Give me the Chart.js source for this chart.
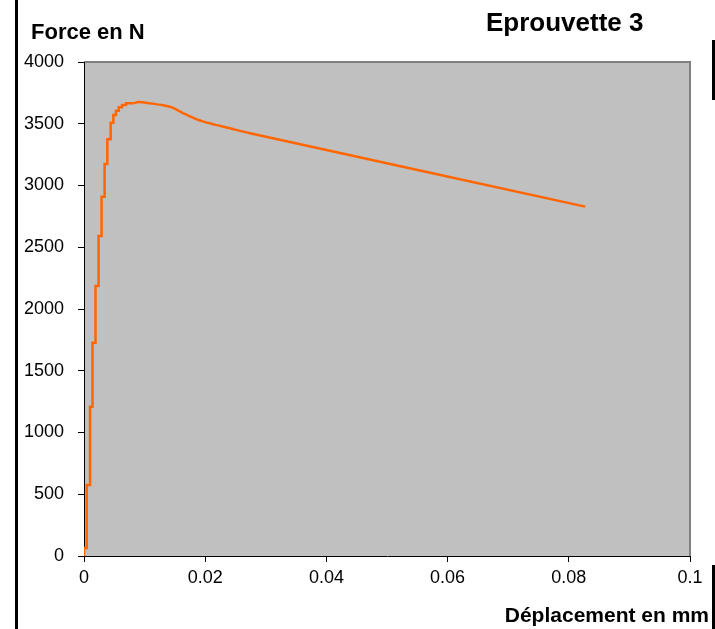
<!DOCTYPE html>
<html>
<head>
<meta charset="utf-8">
<script src="https://cdn.jsdelivr.net/npm/chart.js@4.4.0/dist/chart.umd.min.js"></script>
<style>
  html, body { margin: 0; padding: 0; background: #fff; }
  canvas { display: block; }
</style>
</head>
<body>
<canvas id="chart" width="715" height="629"></canvas>
<script>
// Eprouvette 3 - force / displacement curve

// stepped rise (displacement in mm, force in N)
const riseDisp = [0, 0, 0.00045, 0.0010, 0.0014, 0.0019, 0.0024, 0.0029, 0.0034, 0.00385, 0.0044, 0.00484, 0.00528, 0.00573, 0.00627, 0.00693, 0.00814];
const riseForce = [0, 65, 575, 1209, 1727, 2186, 2591, 2909, 3174, 3374, 3509, 3571, 3606, 3633, 3652, 3665, 3665];

// smooth softening part after the peak
const fallDisp = [0.00814, 0.0090, 0.0109, 0.0131, 0.0145, 0.0164, 0.0186, 0.0208, 0.0241, 0.0274, 0.0827];
const fallForce = [3665, 3676, 3665, 3649, 3633, 3585, 3536, 3503, 3463, 3423, 2829];

const xTicks = [0, 0.02, 0.04, 0.06, 0.08, 0.1];
const yTicks = [0, 500, 1000, 1500, 2000, 2500, 3000, 3500, 4000];

const LINE_COLOR = '#ff6600';
const FONT = 'Arial, "Liberation Sans", sans-serif';

function toPoints(xs, ys) {
    return xs.map((x, i) => ({ x: x, y: ys[i] }));
}

const decor = {
    id: 'decor',
    beforeDraw(chart) {
        const { ctx, chartArea: a } = chart;
        ctx.save();
        ctx.fillStyle = '#ffffff';
        ctx.fillRect(0, 0, chart.width, chart.height);
        ctx.fillStyle = '#c0c0c0';
        ctx.fillRect(a.left, a.top, a.right - a.left, a.bottom - a.top);
        // grey frame on top and right of plot area
        ctx.strokeStyle = '#808080';
        ctx.lineWidth = 2;
        ctx.beginPath();
        ctx.moveTo(a.left, a.top);
        ctx.lineTo(a.right, a.top);
        ctx.lineTo(a.right, a.bottom);
        ctx.stroke();
        ctx.restore();
    },
    afterDraw(chart) {
        const { ctx } = chart;
        ctx.save();
        // black page edges
        ctx.fillStyle = '#000';
        ctx.fillRect(15, 0, 3, chart.height);
        ctx.fillRect(712, 40, 3, 60);
        ctx.fillRect(712, 565, 3, 64);

        ctx.fillStyle = '#000';
        ctx.textBaseline = 'alphabetic';
        ctx.textAlign = 'left';
        ctx.font = 'bold 22px ' + FONT;
        ctx.fillText('Force en N', 31, 39);
        ctx.font = 'bold 26px ' + FONT;
        ctx.fillText('Eprouvette 3', 486, 31);
        ctx.font = 'bold 21px ' + FONT;
        ctx.textAlign = 'right';
        ctx.fillText('Déplacement en mm', 709, 622);
        ctx.restore();
    }
};

new Chart(document.getElementById('chart'), {
    type: 'line',
    data: {
        datasets: [
            {
                label: 'montee',
                data: toPoints(riseDisp, riseForce),
                borderColor: LINE_COLOR,
                borderWidth: 2.5,
                pointRadius: 0,
                fill: false,
                stepped: 'before'
            },
            {
                label: 'descente',
                data: toPoints(fallDisp, fallForce),
                borderColor: LINE_COLOR,
                borderWidth: 2.5,
                pointRadius: 0,
                fill: false,
                tension: 0.3
            }
        ]
    },
    options: {
        responsive: false,
        animation: false,
        devicePixelRatio: 1,
        layout: {
            padding: { left: 0, top: 62, right: 25, bottom: 0 }
        },
        plugins: {
            legend: { display: false },
            tooltip: { enabled: false }
        },
        scales: {
            x: {
                type: 'linear',
                min: 0,
                max: 0.1,
                afterFit: (scale) => { scale.height = 73; },
                afterBuildTicks: (scale) => { scale.ticks = xTicks.map(v => ({ value: v })); },
                border: { display: true, color: '#000', width: 1 },
                grid: { display: true, drawOnChartArea: false, drawTicks: true, tickLength: 6, color: '#000' },
                ticks: {
                    color: '#000',
                    font: { family: FONT, size: 18 },
                    padding: 5,
                    maxRotation: 0,
                    autoSkip: false,
                    callback: (v) => String(+v.toFixed(2))
                }
            },
            y: {
                type: 'linear',
                min: 0,
                max: 4000,
                afterFit: (scale) => { scale.width = 84; },
                afterBuildTicks: (scale) => { scale.ticks = yTicks.map(v => ({ value: v })); },
                border: { display: true, color: '#000', width: 1 },
                grid: { display: true, drawOnChartArea: false, drawTicks: true, tickLength: 6, color: '#000' },
                ticks: {
                    color: '#000',
                    font: { family: FONT, size: 18 },
                    padding: 14,
                    autoSkip: false,
                    callback: (v) => String(v)
                }
            }
        }
    },
    plugins: [decor]
});
</script>
</body>
</html>
